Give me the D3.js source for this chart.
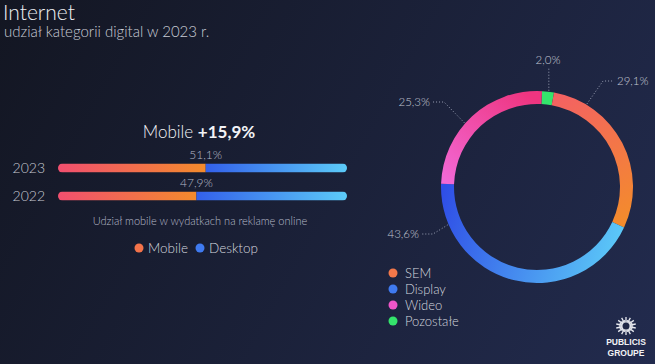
<!DOCTYPE html>
<html>
<head>
<meta charset="utf-8">
<script src="https://cdn.jsdelivr.net/npm/d3@7"></script>
<style>
  html, body { margin: 0; padding: 0; background: #161a2a; }
  svg text { font-family: "Lato", "Open Sans", sans-serif; font-weight: 300; }
</style>
</head>
<body>
<div id="chart"></div>
<script>
// data
const years = ["2023", "2022"];
const mobileShare = [51.1, 47.9];
const barLegend = ["Mobile", "Desktop"];

const segNames = ["Pozostałe", "SEM", "Display", "Wideo"];   // clockwise from top
const segValues = [2.0, 29.1, 43.6, 25.3];
const legendOrder = ["SEM", "Display", "Wideo", "Pozostałe"];

const fmt = v => v.toFixed(1).replace(".", ",") + "%";

const width = 655, height = 364;

const svg = d3.select("#chart")
  .append("svg")
  .attr("width", width)
  .attr("height", height);

const defs = svg.append("defs");

function linGrad(id, x1, y1, x2, y2, c1, c2, user) {
  const g = defs.append("linearGradient").attr("id", id)
    .attr("x1", x1).attr("y1", y1).attr("x2", x2).attr("y2", y2);
  if (user) g.attr("gradientUnits", "userSpaceOnUse");
  g.append("stop").attr("offset", "0%").attr("stop-color", c1);
  g.append("stop").attr("offset", "100%").attr("stop-color", c2);
}

// background
linGrad("bg", 0, 0, width, height, "#131622", "#222b4e", true);
svg.append("rect").attr("width", width).attr("height", height).attr("fill", "url(#bg)");

// titles
svg.append("text").attr("x", 3).attr("y", 20)
  .attr("fill", "#eef0f4").attr("font-size", 21).text("Internet");
svg.append("text").attr("x", 4).attr("y", 37)
  .attr("fill", "#c9ccd6").attr("font-size", 15).text("udział kategorii digital w 2023 r.");

// ---------- bars ----------
const x = d3.scaleLinear().domain([0, 100]).range([58, 347]);
const y = d3.scaleBand().domain(years).range([149.5, 214.5])
  .paddingInner(0.68).paddingOuter(0.5);
const barH = y.bandwidth();

linGrad("gMob", "0%", "0%", "100%", "0%", "#f14f6f", "#f38b2c");
linGrad("gDesk", "0%", "0%", "100%", "0%", "#3360ea", "#5ccbf8");

svg.append("text").attr("x", 199).attr("y", 138)
  .attr("text-anchor", "middle").attr("fill", "#f2f3f6").attr("font-size", 17)
  .html('Mobile <tspan font-weight="bold">+15,9%</tspan>');

const rows = svg.selectAll("g.row").data(years).join("g").attr("class", "row");

rows.each(function (d, i) {
  const g = d3.select(this);
  const y0 = y(d);
  const clipId = "clip" + i;
  defs.append("clipPath").attr("id", clipId)
    .append("rect").attr("x", x(0)).attr("y", y0)
    .attr("width", x(100) - x(0)).attr("height", barH).attr("rx", barH / 2);
  const bars = g.append("g").attr("clip-path", `url(#${clipId})`);
  bars.append("rect").attr("x", x(0)).attr("y", y0)
    .attr("width", x(mobileShare[i]) - x(0)).attr("height", barH)
    .attr("fill", "url(#gMob)");
  bars.append("rect").attr("x", x(mobileShare[i])).attr("y", y0)
    .attr("width", x(100) - x(mobileShare[i])).attr("height", barH)
    .attr("fill", "url(#gDesk)");
  g.append("text").attr("x", 45).attr("y", y0 + barH / 2 + 5)
    .attr("text-anchor", "end").attr("fill", "#c6c9d2").attr("font-size", 14).text(d);
  g.append("text").attr("x", x(mobileShare[i])).attr("y", y0 - 5)
    .attr("text-anchor", "middle").attr("fill", "#b4b8c6").attr("font-size", 12)
    .text(fmt(mobileShare[i]));
});

svg.append("text").attr("x", 200).attr("y", 225)
  .attr("text-anchor", "middle").attr("fill", "#b6bac8").attr("font-size", 11)
  .text("Udział mobile w wydatkach na reklamę online");

const barLegX = [139, 200];
const barLegCol = ["#f3734a", "#3f7af0"];
barLegend.forEach((name, i) => {
  svg.append("circle").attr("cx", barLegX[i]).attr("cy", 248).attr("r", 4.5).attr("fill", barLegCol[i]);
  svg.append("text").attr("x", barLegX[i] + 9).attr("y", 253)
    .attr("fill", "#d4d7df").attr("font-size", 13.5).text(name);
});

// ---------- donut ----------
const cx = 537, cy = 187, rOut = 96, rIn = 83;
const offset = 3 * Math.PI / 180;

// gradient coords are local to the donut group (centre = 0,0)
linGrad("gSEM", 5, -97, 80, 45, "#f35e67", "#f38d2a", true);
linGrad("gDisp", -92, -5, 88, 45, "#2f4ee6", "#5ccaf8", true);
linGrad("gWid", -15, -97, -92, -2, "#ee3580", "#f26ad8", true);

const fills = {
  "SEM": "url(#gSEM)", "Display": "url(#gDisp)",
  "Wideo": "url(#gWid)", "Pozostałe": "#34e46c"
};
const legendCol = { "SEM": "#f3784a", "Display": "#3f7af0", "Wideo": "#ee55c8", "Pozostałe": "#34e46c" };

const pie = d3.pie().sort(null).value(d => d.v)
  .startAngle(offset).endAngle(2 * Math.PI + offset);
const arcs = pie(segNames.map((n, i) => ({ n, v: segValues[i] })));
const arc = d3.arc().innerRadius(rIn).outerRadius(rOut);

const donut = svg.append("g").attr("transform", `translate(${cx},${cy})`);
donut.selectAll("path").data(arcs).join("path")
  .attr("d", arc).attr("fill", d => fills[d.data.n]);

// leader lines + labels (layout only)
const leader = {
  "Pozostałe": { ang: 7, lx: 548, ly: 64, anchor: "middle" },
  "SEM": { ang: 31, lx: 617, ly: 85, anchor: "start" },
  "Wideo": { ang: 311.5, lx: 430, ly: 106, anchor: "end" },
  "Display": { ang: 247, lx: 419, ly: 238, anchor: "end" }
};
arcs.forEach(a => {
  const L = leader[a.data.n];
  const t = L.ang * Math.PI / 180;
  const px = cx + (rOut + 1) * Math.sin(t), py = cy - (rOut + 1) * Math.cos(t);
  let pts;
  if (L.anchor === "middle") pts = [[px, py], [px, L.ly + 4]];
  else {
    const dir = L.anchor === "start" ? -1 : 1;
    const ey = L.ly - 4;
    pts = [[px, py], [L.lx + dir * 14, ey], [L.lx + dir * 3, ey]];
  }
  svg.append("path").attr("d", d3.line()(pts))
    .attr("fill", "none").attr("stroke", "#9aa0b4").attr("stroke-width", 1)
    .attr("stroke-dasharray", "1,2");
  svg.append("text").attr("x", L.lx).attr("y", L.ly)
    .attr("text-anchor", L.anchor).attr("fill", "#c3c7d3").attr("font-size", 11.5)
    .text(fmt(a.data.v));
});

// donut legend
const ly = d3.scaleBand().domain(legendOrder).range([265, 329]);
legendOrder.forEach(n => {
  const yy = ly(n) + ly.bandwidth() / 2;
  svg.append("circle").attr("cx", 393).attr("cy", yy).attr("r", 4.5).attr("fill", legendCol[n]);
  svg.append("text").attr("x", 405).attr("y", yy + 4.5)
    .attr("fill", "#d4d7df").attr("font-size", 13).text(n);
});

// logo
const logo = svg.append("g").attr("transform", "translate(626,326)");
logo.selectAll("line").data(d3.range(28)).join("line")
  .attr("x1", 0).attr("y1", 0)
  .attr("x2", d => Math.cos(d / 28 * 2 * Math.PI) * (d % 2 ? 10 : 7))
  .attr("y2", d => Math.sin(d / 28 * 2 * Math.PI) * (d % 2 ? 9 : 6))
  .attr("stroke", "#e8eaf0").attr("stroke-width", 1.3);
logo.append("circle").attr("r", 3.5).attr("fill", "#1f2746");
logo.append("text").attr("y", 19).attr("text-anchor", "middle")
  .attr("fill", "#f2f3f6").attr("font-size", 8.5).style("font-weight", "bold")
  .style("font-family", "Liberation Sans, Arial, sans-serif").text("PUBLICIS");
logo.append("text").attr("y", 30).attr("text-anchor", "middle")
  .attr("fill", "#f2f3f6").attr("font-size", 8.5).style("font-weight", "bold")
  .style("font-family", "Liberation Sans, Arial, sans-serif").text("GROUPE");
</script>
</body>
</html>
